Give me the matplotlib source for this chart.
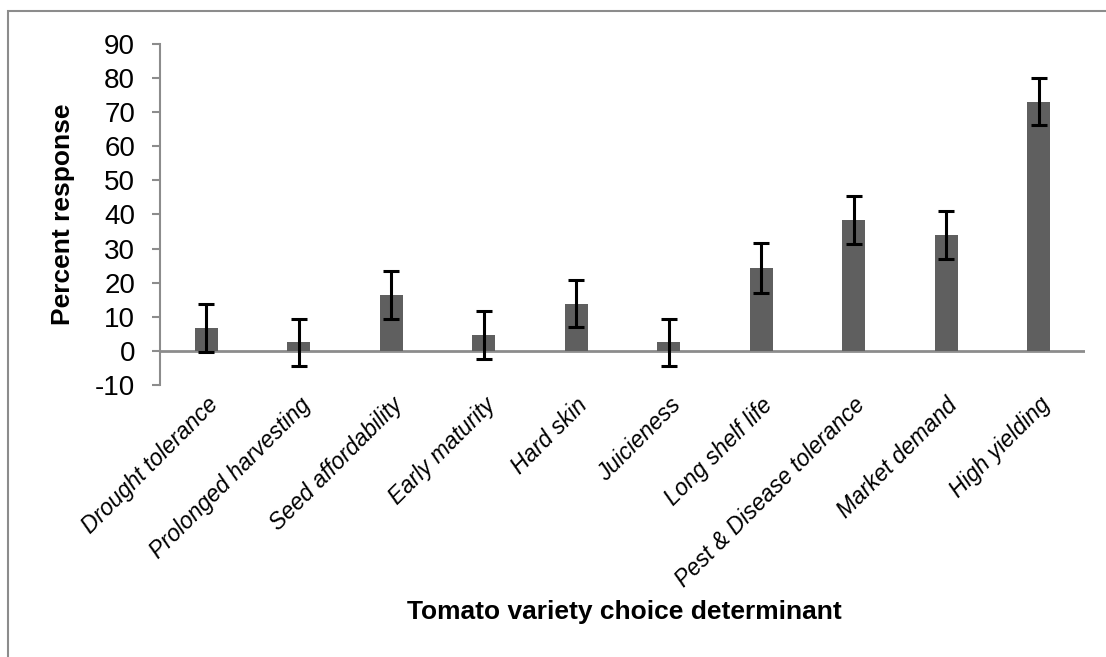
import matplotlib
matplotlib.use("Agg")
import matplotlib.pyplot as plt
from matplotlib import font_manager
from matplotlib.patches import Rectangle

categories = ["Drought tolerance", "Prolonged harvesting", "Seed affordability",
              "Early maturity", "Hard skin", "Juicieness", "Long shelf life",
              "Pest & Disease tolerance", "Market demand", "High yielding"]
values = [6.7, 2.5, 16.5, 4.6, 13.9, 2.5, 24.4, 38.4, 34.0, 73.1]
errors = [7.0, 7.0, 7.0, 7.0, 7.0, 7.0, 7.3, 7.1, 7.1, 7.0]
yticks = [-10, 0, 10, 20, 30, 40, 50, 60, 70, 80, 90]

names = {f.name for f in font_manager.fontManager.ttflist}
fam = "Liberation Sans Narrow" if "Liberation Sans Narrow" in names else "Liberation Sans"
plt.rcParams['font.family'] = [fam, 'DejaVu Sans']

fig = plt.figure(figsize=(11.06, 6.57), dpi=100)
ax = fig.add_axes([160/1106, 1-385/657, (1085-160)/1106, (385-44)/657])

x = list(range(len(categories)))
ax.bar(x, values, width=0.25, color="#5f5f5f", zorder=2)
ax.errorbar(x, values, yerr=errors, fmt='none', ecolor='black', elinewidth=2.2,
            capsize=6, capthick=2.2, zorder=3)
ax.axhline(0, color="#8c8c8c", lw=2, zorder=1)

ax.set_xlim(-0.5, len(categories) - 0.5)
ax.set_ylim(-10, 90)
ax.set_yticks(yticks)
ax.set_yticklabels([str(t) for t in yticks], fontsize=20)
ax.tick_params(axis='y', length=6, width=1.5, color="#8c8c8c", pad=12)
ax.set_xticks(x)
ax.set_xticklabels(categories, rotation=45, ha='right', rotation_mode='anchor',
                   fontsize=16.5, style='italic')
ax.tick_params(axis='x', length=0, pad=6)

for s in ['top', 'right', 'bottom']:
    ax.spines[s].set_visible(False)
ax.spines['left'].set_color("#8c8c8c")
ax.spines['left'].set_linewidth(1.5)

ax.set_ylabel("Percent response", fontsize=19, fontweight='bold', labelpad=14)
fig.text(624/1106, 1-612/657, "Tomato variety choice determinant", fontsize=19,
         fontweight='bold', ha='center', va='center')

fig.patches.append(Rectangle((8/1106, -0.1), 1.2, 1 - 11/657 + 0.1,
                             transform=fig.transFigure, fill=False,
                             edgecolor="#8c8c8c", lw=1.5))

fig.savefig("out.png", dpi=100)
